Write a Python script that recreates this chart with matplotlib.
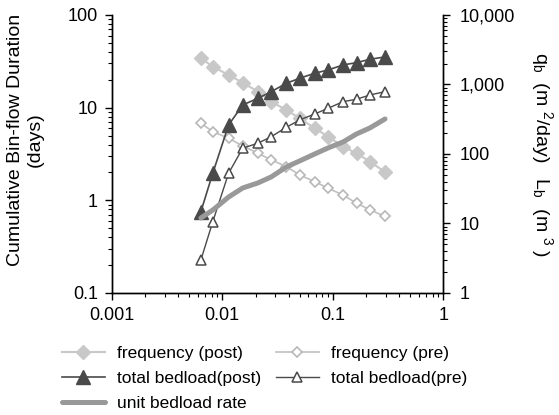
import matplotlib
matplotlib.use('Agg')
import matplotlib.pyplot as plt
import matplotlib.ticker as mticker
import numpy as np

plt.rcParams['font.family'] = ['Liberation Sans', 'DejaVu Sans']
plt.rcParams['mathtext.fontset'] = 'custom'
plt.rcParams['mathtext.rm'] = 'Liberation Sans'
plt.rcParams['mathtext.it'] = 'Liberation Sans'

# flow bins (x)
flow = [0.0064, 0.0082, 0.0114, 0.0153, 0.021, 0.0277, 0.038, 0.050,
        0.0686, 0.0906, 0.124, 0.164, 0.217, 0.297]

# left axis: cumulative duration (days)
freq_post = [34.1, 27.7, 22.5, 18.6, 14.9, 11.6, 9.44, 7.69, 6.0, 4.87, 3.79, 3.22, 2.61, 2.02]
freq_pre = [6.79, 5.51, 4.67, 3.86, 3.22, 2.73, 2.31, 1.88, 1.59, 1.35, 1.14, 0.93, 0.79, 0.67]

# right axis: bedload
total_post = [14.8, 52.8, 261, 507, 632, 787, 1040, 1227, 1449, 1617, 1908, 2061, 2304, 2487]
total_pre = [2.98, 10.6, 52.8, 121, 143, 177, 242, 308, 376, 454, 566, 613, 706, 787]
unit_rate = [12.0, 15.6, 24.0, 32.4, 38.3, 46.7, 65.0, 79.2, 100, 122, 149, 194, 237, 319]

fig = plt.figure(figsize=(5.59, 4.15), dpi=100)
ax = fig.add_axes([0.2, 0.294, 0.593, 0.67])
ax2 = ax.twinx()

l1, = ax.plot(flow, freq_post, color='#c8c8c8', lw=1.5, marker='D', ms=7.5,
              mfc='#c8c8c8', mec='#c8c8c8', label='frequency (post)')
l2, = ax.plot(flow, freq_pre, color='#c0c0c0', lw=1.2, marker='D', ms=5,
              mfc='white', mec='#b8b8b8', mew=1.2, label='frequency (pre)')
l3, = ax2.plot(flow, total_post, color='#4a4a4a', lw=1.2, marker='^', ms=10,
               mfc='#4a4a4a', mec='#4a4a4a', label='total bedload(post)')
l4, = ax2.plot(flow, total_pre, color='#4a4a4a', lw=1.0, marker='^', ms=7,
               mfc='white', mec='#4a4a4a', mew=1.1, label='total bedload(pre)')
l5, = ax2.plot(flow, unit_rate, color='#999999', lw=3.6, solid_capstyle='round',
               label='unit bedload rate')
ax2.set_zorder(ax.get_zorder() + 1)
ax2.patch.set_visible(False)

ax.set_xscale('log')
ax.set_yscale('log')
ax2.set_yscale('log')
ax.set_xlim(0.001, 1)
ax.set_ylim(0.1, 100)
ax2.set_ylim(1, 10000)

ax.xaxis.set_major_locator(mticker.FixedLocator([0.001, 0.01, 0.1, 1]))
ax.xaxis.set_major_formatter(mticker.FixedFormatter(['0.001', '0.01', '0.1', '1']))
ax.yaxis.set_major_locator(mticker.FixedLocator([0.1, 1, 10, 100]))
ax.yaxis.set_major_formatter(mticker.FixedFormatter(['0.1', '1', '10', '100']))
ax2.yaxis.set_major_locator(mticker.FixedLocator([1, 10, 100, 1000, 10000]))
ax2.yaxis.set_major_formatter(mticker.FixedFormatter(['1', '10', '100', '1,000', '10,000']))
for a in (ax.xaxis, ax.yaxis, ax2.yaxis):
    a.set_minor_locator(mticker.LogLocator(base=10, subs=np.arange(2, 10)))
    a.set_minor_formatter(mticker.NullFormatter())

for a in (ax, ax2):
    a.spines['top'].set_visible(False)
    for s in a.spines.values():
        s.set_linewidth(1.0)
    a.tick_params(which='major', direction='out', length=5, width=1, labelsize=13, pad=5)
    a.tick_params(which='minor', direction='out', length=3, width=0.8)
ax2.tick_params(which='major', pad=6.5)

fig.text(25 / 559, 1 - 140 / 415, 'Cumulative Bin-flow Duration\n(days)', fontsize=14,
         rotation=90, ha='center', va='center', multialignment='center')
fig.text(542 / 559, 1 - 155 / 415,
         r'q$_\mathrm{b}$  (m $^2$/day)   L$_\mathrm{b}$  (m $^3$ )', fontsize=14,
         rotation=270, ha='center', va='center')

fig.legend(handles=[l1, l3, l5, l2, l4], loc='upper left', bbox_to_anchor=(0.098, 0.183),
           ncol=2, frameon=False, fontsize=12.5, handlelength=2.48, handletextpad=0.69,
           columnspacing=0.86, labelspacing=0.56, borderaxespad=0)

fig.savefig('out.png', dpi=100)
